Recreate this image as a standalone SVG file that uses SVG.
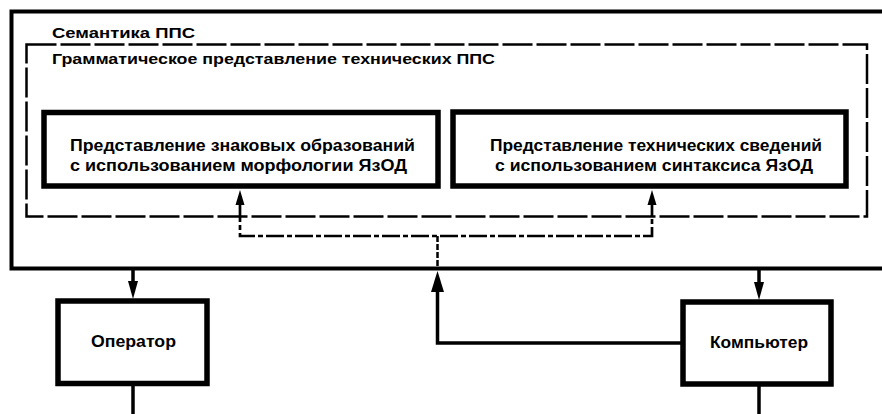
<svg xmlns="http://www.w3.org/2000/svg" width="882" height="414" viewBox="0 0 882 414">
<style>
text{font-family:"Liberation Sans",Arial,sans-serif;font-weight:bold;fill:#000;}
.t1{font-size:15px;}
.t2{font-size:16px;}
.box{fill:#fff;stroke:#000;stroke-width:5.5;}
.outer{fill:none;stroke:#000;stroke-width:4;}
.dbox{fill:none;stroke:#000;stroke-width:2.5;stroke-dasharray:30 4;}
.ln{fill:none;stroke:#000;stroke-width:3.5;}
.dd{fill:none;stroke:#000;stroke-width:2.7;stroke-dasharray:18 3 5 3;}
.ds{fill:none;stroke:#000;stroke-width:2.5;stroke-dasharray:6 2;}
.ah{fill:#000;}
</style>
<rect width="882" height="414" fill="#fff"/>
<g id="semantics">
<rect class="outer" x="11.5" y="11.5" width="890" height="257"/>
<text class="t1" x="52" y="38" textLength="143" lengthAdjust="spacingAndGlyphs">Семантика ППС</text>
</g>
<g id="grammar">
<rect class="dbox" x="26.5" y="44.5" width="840.5" height="172"/>
<text class="t1" x="52" y="64" textLength="443" lengthAdjust="spacingAndGlyphs">Грамматическое представление технических ППС</text>
</g>
<g id="morph">
<rect class="box" x="44" y="112.5" width="394" height="73.5"/>
<text class="t2" x="70" y="151" textLength="345" lengthAdjust="spacingAndGlyphs">Представление знаковых образований</text>
<text class="t2" x="70" y="171" textLength="337" lengthAdjust="spacingAndGlyphs">с использованием морфологии ЯзОД</text>
</g>
<g id="syntax">
<rect class="box" x="453" y="112" width="393" height="74"/>
<text class="t2" x="490" y="151" textLength="332" lengthAdjust="spacingAndGlyphs">Представление технических сведений</text>
<text class="t2" x="495" y="171" textLength="318" lengthAdjust="spacingAndGlyphs">с использованием синтаксиса ЯзОД</text>
</g>
<g id="operator">
<rect class="box" x="58" y="301" width="149" height="82.5"/>
<text class="t2" x="91" y="347" textLength="85" lengthAdjust="spacingAndGlyphs">Оператор</text>
</g>
<g id="computer">
<rect class="box" x="683" y="302" width="148" height="82"/>
<text class="t2" x="710" y="348" textLength="98" lengthAdjust="spacingAndGlyphs">Компьютер</text>
</g>
<g id="connectors">
<path class="dd" d="M240,204 V236 H652 V204"/>
<path class="ds" d="M437.5,236 V270"/>
<polygon class="ah" points="240,190 235.5,205 244.5,205"/>
<polygon class="ah" points="652,190 647.5,205 656.5,205"/>
<path class="ln" d="M437.5,288 V343 H683"/>
<polygon class="ah" points="437.5,271 431,292 444,292"/>
<path class="ln" d="M133,270 V284"/>
<polygon class="ah" points="133,299 128,281 138,281"/>
<path class="ln" d="M759,270 V284"/>
<polygon class="ah" points="759,300 754,282 764,282"/>
<path class="ln" d="M133,385 V414"/>
<path class="ln" d="M759,386 V414"/>
</g>
</svg>
